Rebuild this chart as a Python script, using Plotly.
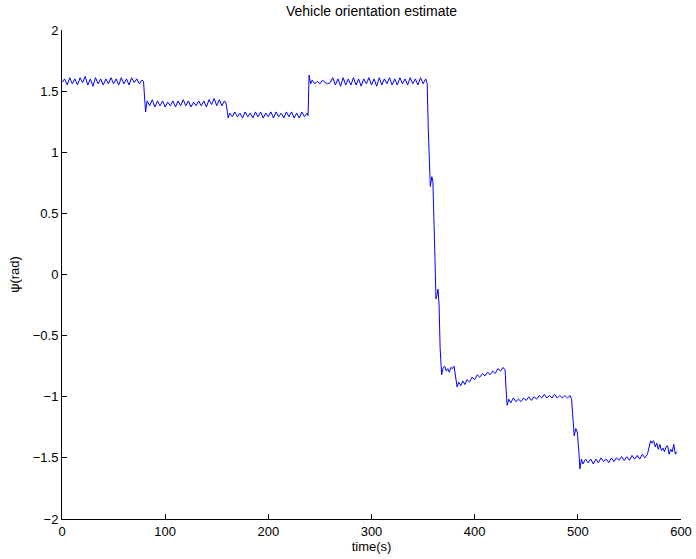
import plotly.graph_objects as go

# Heading estimate psi over time (seconds, radians)
time_s = [
    0, 2.5, 5, 7.5, 10, 12.5, 15, 17.5, 20, 22.5, 25, 27.5, 30, 32.5, 35, 37.5,
    40, 42.5, 45, 47.5, 50, 52.5, 55, 57.5, 60, 62.5, 65, 67.5, 70, 72.5, 75, 77.5, 79,
    80, 81, 82.5, 85, 87.5, 90, 92.5, 95, 97.5, 100, 102.5, 105, 107.5, 110, 112.5,
    115, 117.5, 120, 122.5, 125, 127.5, 130, 132.5, 135, 137.5, 140, 142.5, 145,
    147.5, 150, 152.5, 155, 157.5, 159,
    160, 161, 162.5, 165, 167.5, 170, 172.5, 175, 177.5, 180, 182.5, 185, 187.5,
    190, 192.5, 195, 197.5, 200, 202.5, 205, 207.5, 210, 212.5, 215, 217.5, 220,
    222.5, 225, 227.5, 230, 232.5, 235, 237.5, 238.5,
    239.5, 241, 242.5, 245, 247.5, 250, 252.5, 255, 257.5, 260, 262.5, 265, 267.5,
    270, 272.5, 275, 277.5, 280, 282.5, 285, 287.5, 290, 292.5, 295, 297.5, 300,
    302.5, 305, 307.5, 310, 312.5, 315, 317.5, 320, 322.5, 325, 327.5, 330, 332.5,
    335, 337.5, 340, 342.5, 345, 347.5, 350, 352.5, 354,
    355, 356, 357, 358.5, 359.5, 361, 362.5, 363.5, 364.5, 365.5, 366.5, 368,
    369.5, 371, 372.5, 374, 375.5, 377, 378.5, 380, 381.5, 383, 384.5, 386.5,
    388.5, 390.5, 392.5, 395, 397.5, 400, 402.5, 405, 407.5, 410, 412.5, 415,
    417.5, 420, 422.5, 425, 427.5, 429.5, 430.5, 431.5, 433, 435, 437.5, 440,
    442.5, 445, 447.5, 450, 452.5, 455, 457.5, 460, 462.5, 465, 467.5, 470, 472.5,
    475, 477.5, 480, 482.5, 485, 487.5, 490, 492.5, 494, 495, 496.5, 498, 499.5,
    501, 502, 503.5, 505, 507.5, 510, 512.5, 515, 517.5, 520, 522.5, 525, 527.5,
    530, 532.5, 535, 537.5, 540, 542.5, 545, 547.5, 550, 552.5, 555, 557.5, 560,
    562.5, 565, 567.5, 569, 570.5, 572, 573.5, 575, 576.5, 578, 579.5, 581, 582.5,
    584, 585.5, 587, 588.5, 590, 591.5, 593, 594.5, 596,
]

psi_rad = [
    1.57, 1.60, 1.55, 1.61, 1.56, 1.60, 1.55, 1.61, 1.57, 1.62, 1.55, 1.60, 1.54, 1.61, 1.56, 1.60,
    1.55, 1.60, 1.56, 1.61, 1.56, 1.60, 1.55, 1.61, 1.56, 1.60, 1.55, 1.61, 1.57, 1.60, 1.56, 1.59, 1.58,
    1.48, 1.33, 1.42, 1.38, 1.43, 1.37, 1.42, 1.38, 1.42, 1.37, 1.41, 1.38, 1.42, 1.37, 1.42,
    1.38, 1.43, 1.38, 1.42, 1.37, 1.41, 1.38, 1.42, 1.38, 1.42, 1.37, 1.43, 1.39,
    1.44, 1.38, 1.43, 1.38, 1.42, 1.40,
    1.35, 1.28, 1.32, 1.29, 1.33, 1.29, 1.32, 1.28, 1.33, 1.29, 1.32, 1.28, 1.33,
    1.29, 1.33, 1.28, 1.32, 1.29, 1.33, 1.28, 1.33, 1.29, 1.32, 1.28, 1.33, 1.29,
    1.33, 1.28, 1.32, 1.28, 1.33, 1.29, 1.32, 1.30,
    1.63, 1.56, 1.59, 1.56, 1.58, 1.56, 1.59, 1.57, 1.56, 1.57, 1.61, 1.55, 1.60,
    1.54, 1.61, 1.55, 1.60, 1.55, 1.61, 1.55, 1.60, 1.54, 1.60, 1.56, 1.61, 1.55,
    1.60, 1.54, 1.61, 1.55, 1.60, 1.56, 1.61, 1.55, 1.60, 1.55, 1.61, 1.56, 1.60,
    1.55, 1.61, 1.56, 1.60, 1.55, 1.61, 1.56, 1.60, 1.56,
    1.20, 0.85, 0.72, 0.80, 0.76, 0.30, -0.20, -0.17, -0.12, -0.25, -0.60, -0.82,
    -0.76, -0.75, -0.79, -0.77, -0.80, -0.76, -0.77, -0.75, -0.82, -0.92, -0.88, -0.91,
    -0.87, -0.90, -0.86, -0.88, -0.84, -0.86, -0.82, -0.84, -0.81, -0.83, -0.80, -0.82,
    -0.79, -0.81, -0.77, -0.79, -0.76, -0.78, -0.95, -1.07, -1.02, -1.05, -1.01, -1.04,
    -1.02, -1.04, -1.01, -1.03, -1.00, -1.03, -1.00, -1.02, -0.99, -1.01, -0.98, -1.01, -0.99,
    -1.01, -0.98, -1.01, -0.99, -1.01, -0.99, -1.01, -0.99, -1.02, -1.15, -1.32, -1.26, -1.29,
    -1.45, -1.59, -1.51, -1.55, -1.51, -1.54, -1.51, -1.55, -1.51, -1.54, -1.50, -1.53, -1.51,
    -1.54, -1.50, -1.53, -1.50, -1.52, -1.49, -1.52, -1.49, -1.52, -1.48, -1.51, -1.48, -1.51,
    -1.47, -1.50, -1.47, -1.42, -1.36, -1.38, -1.36, -1.41, -1.38, -1.43, -1.39, -1.44, -1.42,
    -1.45, -1.41, -1.40, -1.47, -1.43, -1.45, -1.39, -1.47, -1.45,
]

x_ticks = [0, 100, 200, 300, 400, 500, 600]
y_ticks = [-2, -1.5, -1, -0.5, 0, 0.5, 1, 1.5, 2]

fig = go.Figure(
    go.Scatter(
        x=time_s,
        y=psi_rad,
        mode="lines",
        line=dict(color="#0000ff", width=1),
        showlegend=False,
    )
)

narrow = "Liberation Sans Narrow, Arial Narrow, Liberation Sans, sans-serif"
axis_font = dict(family=narrow, size=13, color="black")

fig.update_layout(
    width=696,
    height=559,
    margin=dict(l=62, r=15, t=30, b=40, autoexpand=False),
    paper_bgcolor="white",
    plot_bgcolor="white",
    font=axis_font,
    title=dict(
        text="Vehicle orientation estimate",
        x=(62 + 681) / 2 / 696,
        xanchor="center",
        y=1 - 11 / 559,
        yanchor="middle",
        font=dict(family=narrow, size=14, color="black"),
    ),
)

fig.update_xaxes(
    range=[0, 600],
    tickvals=x_ticks,
    ticktext=[str(v) for v in x_ticks],
    ticks="inside",
    ticklen=5,
    tickcolor="black",
    showline=True,
    linecolor="black",
    linewidth=1,
    mirror=False,
    showgrid=False,
    zeroline=False,
    automargin=False,
    tickfont=axis_font,
    title=dict(text="time(s)", font=axis_font, standoff=1),
)

fig.update_yaxes(
    range=[-2, 2],
    tickvals=y_ticks,
    ticktext=[("\u2212" if v < 0 else "") + f"{abs(v):g}" for v in y_ticks],
    ticks="inside",
    ticklen=5,
    tickcolor="black",
    showline=True,
    linecolor="black",
    linewidth=1,
    mirror=False,
    showgrid=False,
    zeroline=False,
    automargin=False,
    tickfont=axis_font,
    title=dict(text="\u03c8(rad)", font=axis_font, standoff=10),
)

fig.write_html("out.html")
